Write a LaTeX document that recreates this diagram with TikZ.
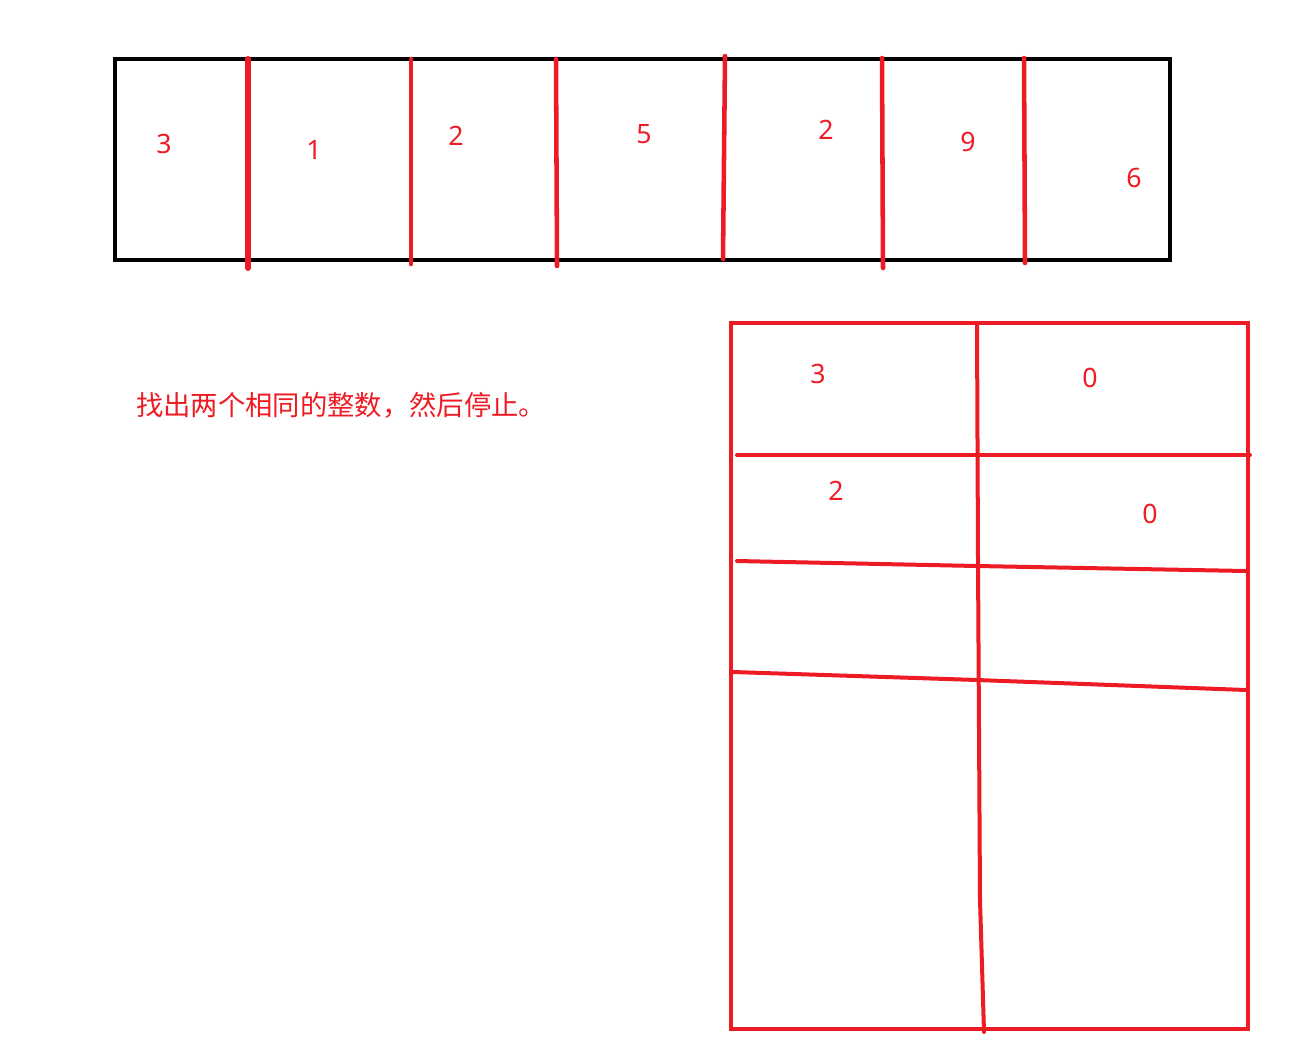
\documentclass[tikz,border=0pt]{standalone}
\usepackage{fontspec}
\setmainfont{Noto Sans}
\newfontfamily\cjk{Noto Sans CJK SC}
\definecolor{paintred}{RGB}{237,28,36}

\begin{document}
\begin{tikzpicture}[x=0.75pt, y=-0.75pt]
    \tikzstyle{digit} = [text=paintred, font=\fontsize{20}{24}\selectfont, inner sep=0pt]
    \tikzstyle{frame} = [draw=black, line width=3pt]
    \tikzstyle{divider} = [draw=paintred, line width=3.4pt, line cap=round]
    \tikzstyle{grid} = [draw=paintred, line width=3pt, line cap=round]
  \useasboundingbox (0,0) rectangle (1306,1054);
  % array of numbers
  \draw[frame] (115,59) rectangle (1170,260);
  \draw[divider, line width=4.5pt] (248,59) -- (248,268);
  \draw[divider] (411,59) -- (411,264);
  \draw[divider] (556,59) -- (557,266);
  \draw[divider] (725,56) -- (723,259);
  \draw[divider] (882,58) -- (883,268);
  \draw[divider] (1024,58) -- (1025,263);
  \node[digit] (a1) at (164,144) {3};
  \node[digit] (a2) at (314,150) {1};
  \node[digit] (a3) at (456,136) {2};
  \node[digit] (a4) at (644,134) {5};
  \node[digit] (a5) at (826,130) {2};
  \node[digit] (a6) at (968,142) {9};
  \node[digit] (a7) at (1134,178) {6};
  % task text
  \node[anchor=west, text=paintred, font=\cjk\fontsize{20.5}{24}\selectfont, inner sep=0pt] (task) at (136,405) {找出两个相同的整数，然后停止。};
  % count table
  \draw[grid] (731,323) rectangle (1248,1029);
  \draw[grid] (977,323) -- (978,560) -- (980,900) -- (984,1032);
  \draw[grid] (737,455) -- (1250,455);
  \draw[grid] (737,561) -- (977,566) -- (1246,571);
  \draw[grid] (733,672) -- (977,680) -- (1246,690);
  \node[digit] (t1) at (818,374) {3};
  \node[digit] (t2) at (1090,378) {0};
  \node[digit] (t3) at (836,491) {2};
  \node[digit] (t4) at (1150,514) {0};
\end{tikzpicture}
\end{document}
